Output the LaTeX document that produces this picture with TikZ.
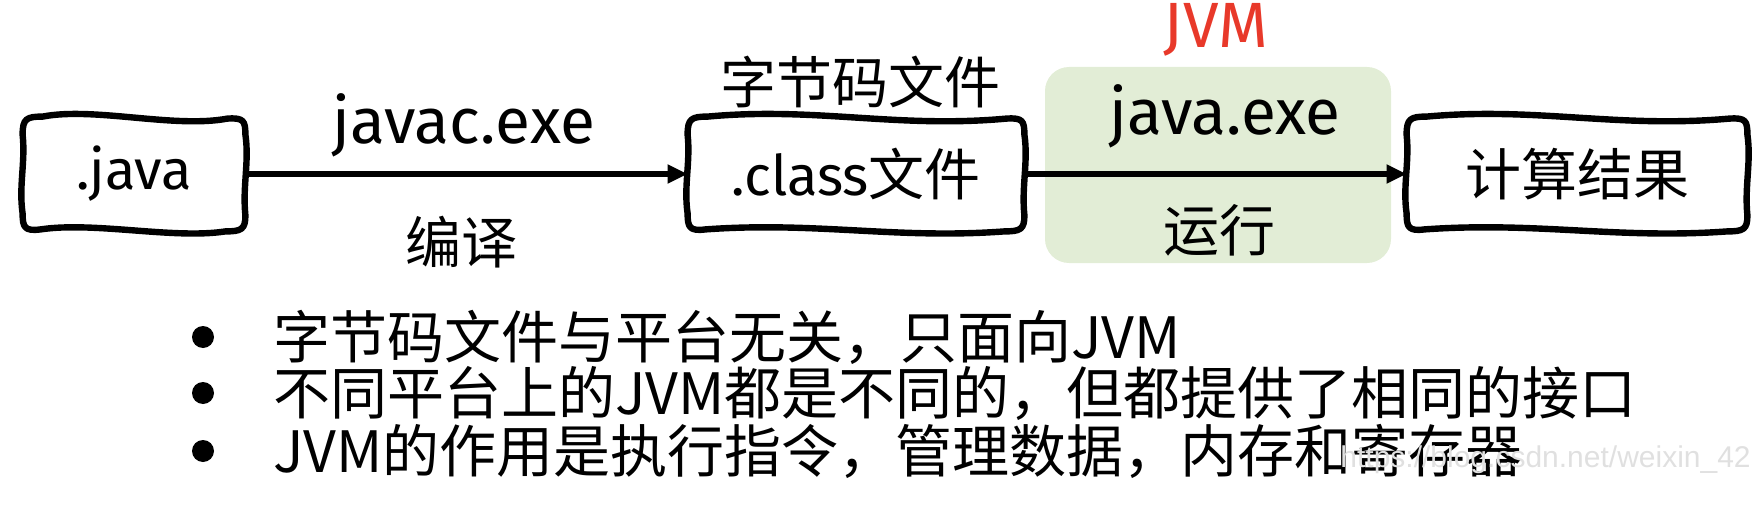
\documentclass[tikz,border=0pt]{standalone}
\usepackage{fontspec}
\setmainfont{Noto Sans CJK SC}
\newfontfamily\latinfont{Fira Sans}
\newfontfamily\markfont{Liberation Sans}
\usepackage{xcolor}
\definecolor{jvmgreen}{HTML}{E2EDD6}
\definecolor{jvmred}{HTML}{E8392A}
\definecolor{mark}{HTML}{E0E0E0}
\usetikzlibrary{arrows.meta,positioning,calc}
\tikzset{
  >={Triangle[length=10pt,width=9pt]},
  sketch/.style={minimum height=57pt,font=\fontsize{28}{30}\selectfont,inner sep=2pt},
  wob/.style={line width=3.2pt,line join=round},
  lab/.style={font=\fontsize{28}{30}\selectfont,inner sep=0pt},
  big/.style={font=\latinfont\fontsize{32}{34}\selectfont},
  arr/.style={->,line width=3pt},
  dot/.style={circle,fill=black,minimum size=11pt,inner sep=0pt},
  item/.style={anchor=west,font=\fontsize{28.5}{31}\selectfont,inner sep=0pt},
}
% hand-drawn outline round a node
\newcommand\wobbox[1]{%
  \draw[wob] ($(#1.north west)+(0,18)$)
    .. controls ($(#1.north west)+(0,2)$) and ($(#1.north west)+(4,0)$) .. ($(#1.north west)+(20,0)$)
    .. controls ($(#1.north)+(-40,-10)$) and ($(#1.north)+(40,12)$) .. ($(#1.north east)+(-18,2)$)
    .. controls ($(#1.north east)+(-2,1)$) and ($(#1.north east)+(0,4)$) .. ($(#1.north east)+(0,18)$)
    .. controls ($(#1.east)+(4,-12)$) and ($(#1.east)+(-3,12)$) .. ($(#1.south east)+(0,-16)$)
    .. controls ($(#1.south east)+(0,-2)$) and ($(#1.south east)+(-4,0)$) .. ($(#1.south east)+(-20,0)$)
    .. controls ($(#1.south)+(40,8)$) and ($(#1.south)+(-40,-10)$) .. ($(#1.south west)+(18,-2)$)
    .. controls ($(#1.south west)+(2,0)$) and ($(#1.south west)+(0,-4)$) .. ($(#1.south west)+(0,-18)$)
    .. controls ($(#1.west)+(-4,12)$) and ($(#1.west)+(3,-12)$) .. ($(#1.north west)+(0,18)$) -- cycle;}

\begin{document}
\begin{tikzpicture}[x=0.5pt,y=-0.5pt]
\useasboundingbox (0,0) rectangle (1762,524);
% JVM background
\node[fill=jvmgreen,rounded corners=12pt,minimum width=173pt,minimum height=98pt] (jvm) at (1218,165) {};
\node[lab,big,text=jvmred] (jvmt) at (1216,30) {JVM};
% boxes
\node[sketch,minimum width=111pt] (src) at (134,174) {\latinfont .java};
\node[sketch,minimum width=168pt] (cls) at (856,174) {\latinfont .class\normalfont 文件};
\node[sketch,minimum width=170pt] (res) at (1577,174) {计算结果};
\foreach \b in {src,cls,res} \wobbox{\b};
% labels
\node[lab,big] (javac) at (464,125) {javac.exe};
\node[lab] (bianyi) at (461,242) {编译};
\node[lab] (bytec) at (860,82) {字节码文件};
\node[lab,big] (javae) at (1225,116) {java.exe};
\node[lab] (yunx) at (1219,230) {运行};
\draw[arr](src)--(cls); \draw[arr](cls)--(res);
% notes
\node[dot] (d1) at (203,337) {}; \node[item] (t1) at (273,337) {字节码文件与平台无关，只面向JVM};
\node[dot] (d2) at (203,393) {}; \node[item] (t2) at (273,393) {不同平台上的JVM都是不同的，但都提供了相同的接口};
\node[dot] (d3) at (203,451) {}; \node[item] (t3) at (273,451) {JVM的作用是执行指令，管理数据，内存和寄存器};
\node[anchor=west,inner sep=0pt,text=mark,font=\markfont\fontsize{15}{17}\selectfont] (wm) at (1340,460) {https://blog.csdn.net/weixin\_42};
\end{tikzpicture}
\end{document}
